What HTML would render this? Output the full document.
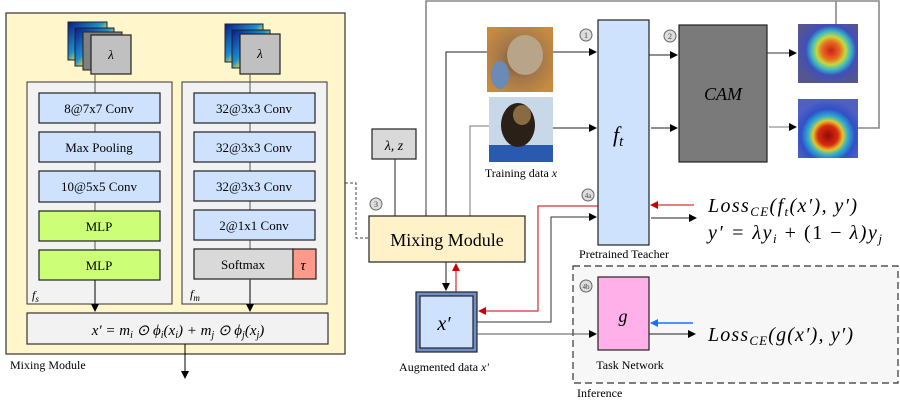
<!DOCTYPE html>
<html><head><meta charset="utf-8"><style>
body{margin:0;background:#fff;}
svg{display:block;font-family:"Liberation Serif",serif;}
</style></head><body>
<svg width="900" height="412" viewBox="0 0 900 412" xmlns="http://www.w3.org/2000/svg">
<defs>
<marker id="a" markerWidth="8" markerHeight="8" refX="7" refY="4" orient="auto" markerUnits="userSpaceOnUse"><path d="M0,0 L8,4 L0,8z" fill="#000"/></marker>
<marker id="r" markerWidth="8" markerHeight="8" refX="7" refY="4" orient="auto" markerUnits="userSpaceOnUse"><path d="M0,0 L8,4 L0,8z" fill="#c00"/></marker>
<marker id="b" markerWidth="8" markerHeight="8" refX="7" refY="4" orient="auto" markerUnits="userSpaceOnUse"><path d="M0,0 L8,4 L0,8z" fill="#1a6fff"/></marker>
<linearGradient id="hm" x1="0" y1="0" x2="1" y2="1"><stop offset="0" stop-color="#0a1a8a"/><stop offset=".45" stop-color="#1c8fd0"/><stop offset=".6" stop-color="#e3d23a"/><stop offset="1" stop-color="#0a1a8a"/></linearGradient>
<radialGradient id="cam1" cx=".55" cy=".45" r=".6"><stop offset="0" stop-color="#c8201a"/><stop offset=".25" stop-color="#e86a20"/><stop offset=".4" stop-color="#c8d83a"/><stop offset=".55" stop-color="#38b8c8"/><stop offset=".7" stop-color="#4050b8"/><stop offset="1" stop-color="#555590"/></radialGradient>
<radialGradient id="cam2" cx=".5" cy=".62" r=".6"><stop offset="0" stop-color="#900a0a"/><stop offset=".28" stop-color="#d82a10"/><stop offset=".42" stop-color="#e0c82a"/><stop offset=".55" stop-color="#30b0d0"/><stop offset=".75" stop-color="#3050c8"/><stop offset="1" stop-color="#5060c0"/></radialGradient>
<radialGradient id="dog" cx=".5" cy=".5" r=".6"><stop offset="0" stop-color="#6a4a30"/><stop offset=".5" stop-color="#a4784a"/><stop offset="1" stop-color="#c88a40"/></radialGradient>
</defs>

<rect x="6" y="13" width="339" height="341" fill="#fff6cc" stroke="#333" stroke-width="1.2"/>
<rect x="68" y="22" width="39" height="38" fill="url(#hm)" stroke="#222"/>
<rect x="75" y="28" width="39" height="38" fill="url(#hm)" stroke="#222"/>
<rect x="83" y="32" width="39" height="38" fill="#808080" stroke="#222"/>
<rect x="91" y="35" width="40" height="39" fill="#c0c0c0" stroke="#222" stroke-width="1.2"/>
<text x="111" y="59" font-size="13" font-style="italic" text-anchor="middle">λ</text>
<rect x="225" y="24" width="38" height="38" fill="url(#hm)" stroke="#222"/>
<rect x="232" y="30" width="38" height="38" fill="url(#hm)" stroke="#222"/>
<rect x="240" y="34" width="40" height="40" fill="#c0c0c0" stroke="#222" stroke-width="1.2"/>
<text x="260" y="58" font-size="13" font-style="italic" text-anchor="middle">λ</text>

<rect x="27" y="82" width="145" height="222" fill="#f2f2f2" stroke="#333"/>
<rect x="182" y="82" width="145" height="222" fill="#f2f2f2" stroke="#333"/>
<line x1="95" y1="74" x2="95" y2="305" stroke="#555"/>
<line x1="250" y1="74" x2="250" y2="305" stroke="#555"/>
<path d="M95 280 V311" stroke="#000" marker-end="url(#a)"/>
<path d="M250 280 V311" stroke="#000" marker-end="url(#a)"/>
<g font-size="13" text-anchor="middle">
<rect x="39" y="93" width="121" height="30" fill="#cfe2fd" stroke="#222" stroke-width="1.2"/><text x="99" y="113">8@7x7 Conv</text>
<rect x="39" y="132" width="121" height="30" fill="#cfe2fd" stroke="#222" stroke-width="1.2"/><text x="99" y="152">Max Pooling</text>
<rect x="39" y="171" width="121" height="31" fill="#cfe2fd" stroke="#222" stroke-width="1.2"/><text x="99" y="191">10@5x5 Conv</text>
<rect x="39" y="211" width="121" height="30" fill="#ccff77" stroke="#222" stroke-width="1.2"/><text x="99" y="231">MLP</text>
<rect x="39" y="250" width="121" height="30" fill="#ccff77" stroke="#222" stroke-width="1.2"/><text x="99" y="270">MLP</text>
<rect x="194" y="93" width="121" height="30" fill="#cfe2fd" stroke="#222" stroke-width="1.2"/><text x="254" y="113">32@3x3 Conv</text>
<rect x="194" y="132" width="121" height="30" fill="#cfe2fd" stroke="#222" stroke-width="1.2"/><text x="254" y="152">32@3x3 Conv</text>
<rect x="194" y="171" width="121" height="30" fill="#cfe2fd" stroke="#222" stroke-width="1.2"/><text x="254" y="191">32@3x3 Conv</text>
<rect x="194" y="210" width="121" height="30" fill="#cfe2fd" stroke="#222" stroke-width="1.2"/><text x="254" y="230">2@1x1 Conv</text>
<rect x="194" y="249" width="99" height="30" fill="#d9d9d9" stroke="#222" stroke-width="1.2"/><text x="243" y="269">Softmax</text>
<rect x="293" y="249" width="23" height="30" fill="#ff9a8a" stroke="#222" stroke-width="1.2"/><text x="303" y="270" font-style="italic" font-size="15">τ</text>
</g>
<text x="32" y="299" font-size="12" font-style="italic">f<tspan font-size="9" dy="3">s</tspan></text>
<text x="190" y="298" font-size="12" font-style="italic">f<tspan font-size="9" dy="3">m</tspan></text>
<rect x="27" y="313" width="301" height="31" fill="#f2f2f2" stroke="#333" stroke-width="1.2"/>
<text x="178" y="335" font-size="15" font-style="italic" text-anchor="middle">x′ = m<tspan font-size="10" dy="3">i</tspan><tspan dy="-3"> ⊙ ϕ</tspan><tspan font-size="10" dy="3">i</tspan><tspan dy="-3">(x</tspan><tspan font-size="10" dy="3">i</tspan><tspan dy="-3">) + m</tspan><tspan font-size="10" dy="3">j</tspan><tspan dy="-3"> ⊙ ϕ</tspan><tspan font-size="10" dy="3">j</tspan><tspan dy="-3">(x</tspan><tspan font-size="10" dy="3">j</tspan><tspan dy="-3">)</tspan></text>
<text x="10" y="369" font-size="12">Mixing Module</text>
<path d="M185 344 V378" stroke="#000" marker-end="url(#a)"/>

<path d="M345 183 H356 V238 H369" fill="none" stroke="#444" stroke-dasharray="3,2"/>

<path d="M426 231 V1 H879 V128 H858" fill="none" stroke="#888" stroke-width="1.6"/>
<path d="M836 1 V24" stroke="#888" stroke-width="1.6"/>
<path d="M426 210 V229" stroke="#888" stroke-width="1.6" marker-end="url(#a)"/>

<rect x="487" y="27" width="66" height="65" fill="url(#dog)"/>
<ellipse cx="525" cy="55" rx="18" ry="20" fill="#b8a488"/>
<ellipse cx="500" cy="75" rx="9" ry="14" fill="#6a8ab8"/>
<rect x="489" y="97" width="64" height="65" fill="#c8d8e8"/>
<rect x="489" y="145" width="64" height="17" fill="#2a5ab0"/>
<ellipse cx="518" cy="125" rx="17" ry="22" fill="#2a2018"/>
<ellipse cx="522" cy="115" rx="9" ry="10" fill="#8a6a40"/>
<text x="521" y="177" font-size="12" text-anchor="middle">Training data <tspan font-style="italic">x</tspan></text>

<path d="M487 52 H446 V229" fill="none" stroke="#222" marker-end="url(#a)"/>
<path d="M489 126 H470 V229" fill="none" stroke="#777" marker-end="url(#a)"/>
<path d="M553 52 H596" stroke="#222" marker-end="url(#a)"/>
<path d="M553 128 H596" stroke="#222" marker-end="url(#a)"/>

<rect x="598" y="20" width="51" height="225" fill="#cfe2fd" stroke="#222" stroke-width="1.2"/>
<text x="613" y="142" font-size="22" font-style="italic">f<tspan font-size="15" dy="4">t</tspan></text>
<text x="624" y="258" font-size="12" text-anchor="middle">Pretrained Teacher</text>

<rect x="679" y="25" width="88" height="137" fill="#7a7a7a" stroke="#222" stroke-width="1.2"/>
<text x="723" y="100" font-size="18" font-style="italic" text-anchor="middle">CAM</text>
<path d="M649 55 H677" stroke="#222" marker-end="url(#a)"/>
<path d="M651 128 H677" stroke="#222" marker-end="url(#a)"/>
<path d="M767 53 H796" stroke="#333" marker-end="url(#a)"/>
<path d="M769 127 H796" stroke="#777" marker-end="url(#a)"/>
<rect x="798" y="24" width="60" height="59" fill="url(#cam1)"/>
<rect x="798" y="99" width="60" height="59" fill="url(#cam2)"/>

<rect x="372" y="129" width="44" height="30" fill="#d9d9d9" stroke="#222" stroke-width="1.2"/>
<text x="394" y="150" font-size="14" font-style="italic" text-anchor="middle">λ, z</text>
<path d="M395 159 V229" stroke="#222" marker-end="url(#a)"/>

<rect x="369" y="216" width="156" height="46" fill="#fff2c8" stroke="#222" stroke-width="1.2"/>
<text x="447" y="246" font-size="18" text-anchor="middle">Mixing Module</text>
<path d="M446 262 V290" stroke="#222" marker-end="url(#a)"/>
<path d="M456 292 V264" stroke="#c00" marker-end="url(#r)"/>

<rect x="416" y="292" width="61" height="60" fill="#6f8fc8" stroke="#222" stroke-width="1.2"/>
<rect x="420" y="296" width="53" height="52" fill="#cfe2fd" stroke="#222" stroke-width="1.2"/>
<text x="444" y="330" font-size="20" font-style="italic" text-anchor="middle">x′</text>
<text x="444" y="371" font-size="12" text-anchor="middle">Augmented data <tspan font-style="italic">x'</tspan></text>

<path d="M598 206 H538 V311 H479" fill="none" stroke="#c00" marker-end="url(#r)"/>
<path d="M477 322 H551 V217 H596" fill="none" stroke="#333" marker-end="url(#a)"/>
<path d="M694 205 H651" stroke="#c00" marker-end="url(#r)"/>
<path d="M651 218 H696" stroke="#222" marker-end="url(#a)"/>
<text x="708" y="212" font-size="20" font-style="italic" textLength="149" lengthAdjust="spacing">Loss<tspan font-size="13" dy="4">CE</tspan><tspan dy="-4">(f</tspan><tspan font-size="13" dy="4">t</tspan><tspan dy="-4">(x′), y′)</tspan></text>
<text x="708" y="239" font-size="20" font-style="italic" textLength="174" lengthAdjust="spacing">y′ = λy<tspan font-size="13" dy="4">i</tspan><tspan dy="-4" font-style="normal"> + (1 − </tspan><tspan dy="0">λ)y</tspan><tspan font-size="13" dy="4">j</tspan></text>

<rect x="573" y="266" width="325" height="117" fill="#f7f7f7" stroke="#333" stroke-width="1.2" stroke-dasharray="7,4"/>
<text x="577" y="397" font-size="12">Inference</text>
<rect x="598" y="277" width="51" height="73" fill="#ffb0e8" stroke="#222" stroke-width="1.2"/>
<text x="623" y="322" font-size="18" font-style="italic" text-anchor="middle">g</text>
<text x="630" y="369" font-size="12" text-anchor="middle">Task Network</text>
<path d="M477 334 H596" stroke="#555" marker-end="url(#a)"/>
<path d="M693 323 H651" stroke="#1a6fff" stroke-width="1.5" marker-end="url(#b)"/>
<path d="M649 334 H695" stroke="#222" marker-end="url(#a)"/>
<text x="708" y="341" font-size="20" font-style="italic" textLength="145" lengthAdjust="spacing">Loss<tspan font-size="13" dy="4">CE</tspan><tspan dy="-4">(g(x′), y′)</tspan></text>

<g font-size="8" text-anchor="middle" fill="#444">
<circle cx="586" cy="35" r="6" fill="#ddd" stroke="#666"/><text x="586" y="38">1</text>
<circle cx="670" cy="36" r="6" fill="#ddd" stroke="#666"/><text x="670" y="39">2</text>
<circle cx="376" cy="204" r="6" fill="#ddd" stroke="#666"/><text x="376" y="207">3</text>
<circle cx="588" cy="195" r="6" fill="#ddd" stroke="#666"/><text x="588" y="198" font-size="7">4a</text>
<circle cx="586" cy="286" r="6" fill="#ddd" stroke="#666"/><text x="586" y="289" font-size="7">4b</text>
</g>
</svg>
</body></html>
